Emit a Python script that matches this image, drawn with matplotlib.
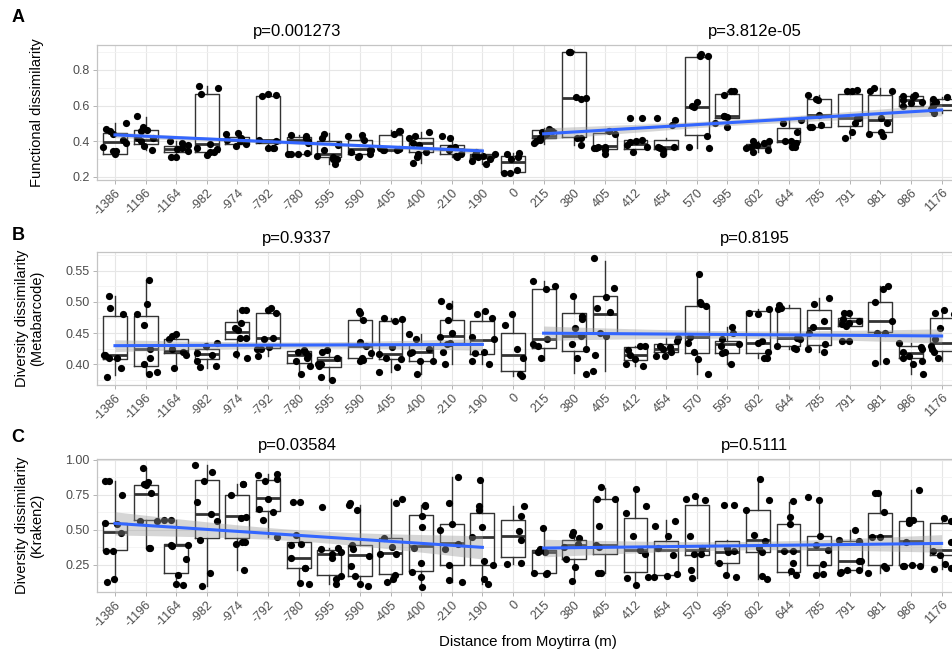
import numpy as np
import matplotlib.pyplot as plt

plt.rcParams['font.family'] = ['Liberation Sans', 'DejaVu Sans']

# distance categories (m)
sites = ["-1386", "-1196", "-1164", "-982", "-974", "-792", "-780", "-595", "-590",
         "-405", "-400", "-210", "-190", "0", "215", "380", "405", "412", "454",
         "570", "595", "602", "644", "785", "791", "981", "986", "1176"]

# ---- A: functional dissimilarity ----
func_pts = [
    [0.326, 0.39, 0.47, 0.50, 0.455, 0.44, 0.405, 0.345, 0.345, 0.37],
    [0.35, 0.465, 0.455, 0.42, 0.40, 0.375, 0.54, 0.48, 0.42],
    [0.40, 0.36, 0.31, 0.31, 0.345, 0.38, 0.39, 0.355],
    [0.665, 0.71, 0.70, 0.325, 0.36, 0.34, 0.34, 0.385, 0.355],
    [0.44, 0.445, 0.375, 0.41, 0.42, 0.385, 0.40],
    [0.655, 0.66, 0.665, 0.36, 0.36, 0.405, 0.40, 0.36],
    [0.43, 0.435, 0.42, 0.33, 0.33, 0.335, 0.40, 0.39, 0.33],
    [0.35, 0.32, 0.30, 0.27, 0.38, 0.44, 0.42, 0.31, 0.30],
    [0.35, 0.34, 0.32, 0.33, 0.31, 0.435, 0.43, 0.41, 0.35],
    [0.46, 0.46, 0.44, 0.35, 0.35, 0.35, 0.355, 0.36],
    [0.45, 0.28, 0.33, 0.31, 0.34, 0.39, 0.38, 0.42, 0.43],
    [0.42, 0.43, 0.37, 0.35, 0.31, 0.315, 0.36, 0.33],
    [0.275, 0.30, 0.31, 0.32, 0.325, 0.33, 0.34, 0.32, 0.29],
    [0.33, 0.335, 0.31, 0.22, 0.22, 0.30, 0.24],
    [0.43, 0.44, 0.46, 0.47, 0.42, 0.45, 0.41, 0.39, 0.40],
    [0.90, 0.90, 0.90, 0.65, 0.645, 0.635, 0.42, 0.38, 0.42],
    [0.44, 0.46, 0.37, 0.36, 0.33, 0.37, 0.36, 0.35],
    [0.53, 0.53, 0.41, 0.40, 0.38, 0.37, 0.34, 0.395],
    [0.52, 0.53, 0.49, 0.37, 0.35, 0.36, 0.37, 0.33],
    [0.88, 0.88, 0.89, 0.62, 0.60, 0.59, 0.43, 0.37, 0.36],
    [0.68, 0.66, 0.68, 0.54, 0.54, 0.535, 0.50, 0.48],
    [0.40, 0.40, 0.39, 0.38, 0.37, 0.35, 0.36, 0.34],
    [0.52, 0.50, 0.45, 0.40, 0.39, 0.37, 0.40, 0.37],
    [0.66, 0.63, 0.64, 0.55, 0.48, 0.48, 0.49],
    [0.68, 0.69, 0.68, 0.53, 0.50, 0.45, 0.42, 0.53],
    [0.70, 0.68, 0.68, 0.53, 0.50, 0.45, 0.43, 0.44],
    [0.655, 0.66, 0.65, 0.63, 0.62, 0.60, 0.615],
    [0.64, 0.65, 0.62, 0.60, 0.58, 0.56, 0.61],
]
func_lo = [0.325, 0.35, 0.31, 0.325, 0.375, 0.36, 0.33, 0.27, 0.31, 0.345, 0.28, 0.31, 0.27, 0.22,
           0.385, 0.38, 0.33, 0.34, 0.33, 0.36, 0.48, 0.34, 0.37, 0.48, 0.42, 0.43, 0.60, 0.56]
func_q1 = [0.327, 0.384, 0.34, 0.34, 0.3875, 0.39, 0.331, 0.3125, 0.331, 0.35, 0.34, 0.327, 0.305, 0.228,
           0.42, 0.425, 0.356, 0.359, 0.356, 0.434, 0.528, 0.36, 0.397, 0.481, 0.487, 0.453, 0.60, 0.575]
func_med = [0.397, 0.406, 0.356, 0.384, 0.41, 0.41, 0.406, 0.331, 0.359, 0.354, 0.393, 0.356, 0.32, 0.284,
            0.43, 0.644, 0.372, 0.384, 0.369, 0.594, 0.54, 0.374, 0.40, 0.55, 0.528, 0.519, 0.63, 0.601]
func_q3 = [0.449, 0.466, 0.374, 0.663, 0.425, 0.656, 0.425, 0.40, 0.406, 0.438, 0.419, 0.378, 0.33, 0.318,
           0.465, 0.899, 0.444, 0.406, 0.41, 0.875, 0.665, 0.387, 0.472, 0.637, 0.665, 0.659, 0.655, 0.635]
func_hi = [0.50, 0.5375, 0.40, 0.71, 0.445, 0.67, 0.435, 0.445, 0.435, 0.465, 0.45, 0.43, 0.345, 0.335,
           0.475, 0.905, 0.46, 0.415, 0.42, 0.89, 0.68, 0.40, 0.52, 0.66, 0.69, 0.70, 0.665, 0.65]

# ---- B: diversity dissimilarity (metabarcode) ----
meta_pts = [
    [0.51, 0.49, 0.48, 0.415, 0.41, 0.395, 0.38, 0.415, 0.41],
    [0.535, 0.497, 0.48, 0.463, 0.41, 0.40, 0.385, 0.388, 0.425],
    [0.395, 0.44, 0.445, 0.448, 0.415, 0.42, 0.425],
    [0.435, 0.43, 0.415, 0.418, 0.405, 0.396, 0.397],
    [0.487, 0.487, 0.467, 0.458, 0.455, 0.443, 0.442, 0.417, 0.41],
    [0.49, 0.483, 0.487, 0.442, 0.441, 0.428, 0.425, 0.413, 0.425],
    [0.423, 0.42, 0.415, 0.41, 0.405, 0.397, 0.385, 0.42],
    [0.423, 0.42, 0.40, 0.38, 0.375, 0.40, 0.40, 0.41, 0.398],
    [0.485, 0.483, 0.471, 0.436, 0.418, 0.43, 0.41, 0.407, 0.406],
    [0.472, 0.475, 0.47, 0.428, 0.417, 0.41, 0.409, 0.396, 0.388],
    [0.44, 0.448, 0.425, 0.42, 0.418, 0.406, 0.406, 0.385],
    [0.502, 0.494, 0.471, 0.451, 0.444, 0.42, 0.401, 0.435, 0.433],
    [0.485, 0.48, 0.475, 0.44, 0.444, 0.418, 0.42, 0.40, 0.405],
    [0.463, 0.48, 0.425, 0.41, 0.382, 0.385],
    [0.534, 0.526, 0.52, 0.432, 0.43, 0.44, 0.41],
    [0.51, 0.478, 0.473, 0.458, 0.445, 0.432, 0.425, 0.41, 0.385],
    [0.57, 0.523, 0.508, 0.484, 0.49, 0.446, 0.45, 0.415, 0.39],
    [0.43, 0.43, 0.423, 0.415, 0.408, 0.398, 0.40],
    [0.443, 0.437, 0.43, 0.428, 0.425, 0.42, 0.413, 0.413],
    [0.544, 0.50, 0.496, 0.494, 0.444, 0.435, 0.42, 0.408, 0.385],
    [0.46, 0.45, 0.433, 0.44, 0.43, 0.42, 0.418, 0.40],
    [0.488, 0.483, 0.48, 0.438, 0.435, 0.42, 0.41, 0.41],
    [0.495, 0.49, 0.488, 0.443, 0.44, 0.43, 0.425, 0.427],
    [0.507, 0.497, 0.47, 0.46, 0.45, 0.433, 0.425, 0.42],
    [0.483, 0.483, 0.47, 0.472, 0.467, 0.462, 0.438, 0.438, 0.465],
    [0.525, 0.52, 0.50, 0.47, 0.45, 0.45, 0.405, 0.402],
    [0.435, 0.428, 0.425, 0.42, 0.41, 0.413, 0.40, 0.385, 0.405],
    [0.48, 0.482, 0.487, 0.458, 0.44, 0.43, 0.42, 0.41, 0.425],
]
meta_lo = [0.383, 0.386, 0.395, 0.395, 0.41, 0.413, 0.385, 0.375, 0.406, 0.388, 0.385, 0.401, 0.40, 0.382,
           0.407, 0.387, 0.39, 0.398, 0.413, 0.385, 0.40, 0.41, 0.425, 0.42, 0.462, 0.40, 0.385, 0.405]
meta_q1 = [0.408, 0.398, 0.419, 0.408, 0.44, 0.426, 0.403, 0.396, 0.41, 0.409, 0.406, 0.435, 0.416, 0.389,
           0.426, 0.421, 0.45, 0.407, 0.42, 0.419, 0.418, 0.419, 0.43, 0.431, 0.462, 0.452, 0.41, 0.422]
meta_med = [0.415, 0.425, 0.422, 0.417, 0.452, 0.442, 0.415, 0.407, 0.43, 0.417, 0.42, 0.445, 0.439, 0.415,
            0.44, 0.445, 0.48, 0.415, 0.425, 0.444, 0.433, 0.435, 0.442, 0.459, 0.469, 0.47, 0.418, 0.434]
meta_q3 = [0.478, 0.478, 0.44, 0.425, 0.468, 0.483, 0.421, 0.412, 0.471, 0.47, 0.433, 0.471, 0.47, 0.451,
           0.52, 0.483, 0.509, 0.428, 0.433, 0.494, 0.437, 0.485, 0.491, 0.487, 0.474, 0.50, 0.43, 0.475]
meta_hi = [0.509, 0.535, 0.448, 0.435, 0.487, 0.49, 0.423, 0.423, 0.485, 0.475, 0.448, 0.502, 0.485, 0.48,
           0.534, 0.509, 0.565, 0.43, 0.443, 0.545, 0.46, 0.488, 0.495, 0.507, 0.483, 0.525, 0.435, 0.487]

# ---- C: diversity dissimilarity (Kraken2) ----
krak_pts = [
    [0.845, 0.845, 0.75, 0.54, 0.545, 0.35, 0.15, 0.13, 0.48, 0.35],
    [0.94, 0.82, 0.83, 0.84, 0.76, 0.565, 0.565, 0.37, 0.37],
    [0.57, 0.57, 0.39, 0.39, 0.385, 0.29, 0.18, 0.11, 0.105],
    [0.96, 0.91, 0.85, 0.70, 0.61, 0.56, 0.43, 0.19, 0.10],
    [0.83, 0.83, 0.745, 0.59, 0.585, 0.41, 0.41, 0.40, 0.21],
    [0.90, 0.89, 0.86, 0.85, 0.72, 0.65, 0.63, 0.57, 0.45],
    [0.70, 0.70, 0.46, 0.40, 0.39, 0.30, 0.23, 0.23, 0.12, 0.11],
    [0.66, 0.37, 0.36, 0.34, 0.33, 0.30, 0.17, 0.15, 0.11],
    [0.68, 0.64, 0.69, 0.39, 0.36, 0.31, 0.24, 0.17, 0.11, 0.095],
    [0.72, 0.69, 0.44, 0.38, 0.33, 0.33, 0.18, 0.13, 0.145],
    [0.68, 0.67, 0.60, 0.52, 0.37, 0.26, 0.20, 0.16, 0.09],
    [0.88, 0.69, 0.50, 0.54, 0.36, 0.40, 0.245, 0.14, 0.13],
    [0.852, 0.67, 0.64, 0.52, 0.445, 0.28, 0.245, 0.15, 0.11],
    [0.67, 0.60, 0.49, 0.43, 0.262, 0.255],
    [0.51, 0.36, 0.34, 0.34, 0.345, 0.19, 0.185, 0.19],
    [0.483, 0.464, 0.44, 0.38, 0.29, 0.231, 0.136, 0.40],
    [0.805, 0.721, 0.721, 0.529, 0.388, 0.38, 0.19, 0.19],
    [0.79, 0.671, 0.619, 0.452, 0.357, 0.329, 0.16, 0.155, 0.107],
    [0.559, 0.524, 0.452, 0.369, 0.321, 0.183, 0.17, 0.16],
    [0.719, 0.74, 0.71, 0.452, 0.33, 0.33, 0.21, 0.37, 0.155],
    [0.679, 0.679, 0.37, 0.35, 0.34, 0.262, 0.179, 0.16],
    [0.862, 0.714, 0.643, 0.464, 0.42, 0.34, 0.37, 0.167, 0.15],
    [0.707, 0.588, 0.543, 0.35, 0.35, 0.262, 0.202, 0.179],
    [0.714, 0.731, 0.457, 0.357, 0.255, 0.186, 0.175, 0.393],
    [0.495, 0.429, 0.42, 0.28, 0.28, 0.20, 0.19, 0.21, 0.21],
    [0.762, 0.762, 0.624, 0.448, 0.448, 0.24, 0.23, 0.19],
    [0.786, 0.567, 0.548, 0.57, 0.41, 0.238, 0.24, 0.25, 0.24],
    [0.583, 0.56, 0.41, 0.35, 0.255, 0.226, 0.219, 0.32],
]
krak_lo = [0.13, 0.37, 0.105, 0.10, 0.21, 0.45, 0.11, 0.11, 0.095, 0.13, 0.09, 0.13, 0.11, 0.255,
           0.185, 0.136, 0.19, 0.107, 0.16, 0.155, 0.16, 0.15, 0.18, 0.18, 0.20, 0.19, 0.238, 0.219]
krak_q1 = [0.352, 0.567, 0.19, 0.44, 0.44, 0.636, 0.226, 0.179, 0.171, 0.186, 0.202, 0.25, 0.245, 0.302,
           0.19, 0.29, 0.329, 0.195, 0.174, 0.321, 0.262, 0.34, 0.198, 0.245, 0.214, 0.245, 0.245, 0.317]
krak_med = [0.483, 0.757, 0.39, 0.612, 0.595, 0.724, 0.298, 0.327, 0.317, 0.331, 0.381, 0.405, 0.445, 0.457,
            0.34, 0.388, 0.388, 0.357, 0.352, 0.357, 0.34, 0.429, 0.345, 0.364, 0.279, 0.452, 0.417, 0.352]
krak_q3 = [0.548, 0.821, 0.398, 0.857, 0.745, 0.857, 0.41, 0.352, 0.393, 0.44, 0.607, 0.54, 0.619, 0.571,
           0.352, 0.429, 0.721, 0.583, 0.417, 0.674, 0.417, 0.643, 0.543, 0.457, 0.417, 0.619, 0.564, 0.548]
krak_hi = [0.845, 0.94, 0.57, 0.96, 0.83, 0.90, 0.46, 0.37, 0.68, 0.72, 0.68, 0.88, 0.852, 0.67,
           0.50, 0.49, 0.80, 0.79, 0.567, 0.72, 0.43, 0.86, 0.70, 0.72, 0.495, 0.76, 0.786, 0.583]

# linear fits: (value at first site, value at last site),
# and confidence half-width (at centre, at ends); left = sites -1386..-190, right = 215..1176
fit_left = [(0.436, 0.346), (0.430, 0.432), (0.545, 0.374)]
fit_right = [(0.442, 0.576), (0.450, 0.4455), (0.369, 0.402)]
band_left = [(0.008, 0.016), (0.005, 0.0095), (0.04, 0.083)]
band_right = [(0.016, 0.033), (0.006, 0.0115), (0.03, 0.063)]

p_left = ["p=0.001273", "p=0.9337", "p=0.03584"]
p_right = ["p=3.812e-05", "p=0.8195", "p=0.5111"]

W, H = 952, 654
fig = plt.figure(figsize=(W / 100, H / 100), dpi=100)
left = 96.6 / W
width = (960 - 96.6) / W
axA = fig.add_axes([left, 1 - 180 / H, width, 135 / H])
axB = fig.add_axes([left, 1 - 385 / H, width, 133 / H])
axC = fig.add_axes([left, 1 - 592 / H, width, 133 / H])

grey_txt = '#4D4D4D'


def smooth(ax, i0, i1, ends, band):
    xx = np.linspace(i0, i1, 80)
    fit = np.interp(xx, [i0, i1], ends)
    t = (xx - (i0 + i1) / 2) / ((i1 - i0) / 2)
    hw = np.sqrt(band[0] ** 2 + (band[1] ** 2 - band[0] ** 2) * t ** 2)
    ax.fill_between(xx, fit - hw, fit + hw, color='#999999', alpha=0.4, lw=0, zorder=4)
    ax.plot(xx, fit, color='#3366FF', lw=2.2, zorder=5)


def panel(ax, k, pts, lo, q1, med, q3, hi, ylim, yticks, minor, fmt, ylabel, seed):
    ax.set_xlim(-0.6, 27.6)
    ax.set_ylim(*ylim)
    ax.set_axisbelow(True)
    ax.set_xticks(range(len(sites)))
    ax.set_xticklabels(sites, rotation=45, ha='right', va='top', rotation_mode='anchor',
                       fontsize=9, color=grey_txt)
    ax.set_yticks(yticks)
    ax.set_yticklabels([fmt % v for v in yticks], fontsize=9, color=grey_txt)
    ax.set_yticks(minor, minor=True)
    ax.tick_params(axis='both', which='major', length=3, color='#B3B3B3', width=0.7, pad=2)
    ax.tick_params(axis='y', which='minor', length=0)
    ax.grid(True, which='major', color='#E6E6E6', lw=0.8)
    ax.grid(True, which='minor', axis='y', color='#F2F2F2', lw=0.6)
    for sp in ax.spines.values():
        sp.set_color('#C4C4C4')
        sp.set_linewidth(0.9)

    stats = [dict(med=med[i], q1=q1[i], q3=q3[i], whislo=lo[i], whishi=hi[i], fliers=[])
             for i in range(len(sites))]
    ax.bxp(stats, positions=range(len(sites)), widths=0.78, showfliers=False, showcaps=False,
           boxprops=dict(color='#333333', lw=1.0),
           whiskerprops=dict(color='#333333', lw=1.0),
           medianprops=dict(color='#333333', lw=2.0), manage_ticks=False)

    rng = np.random.default_rng(seed)
    for i, vals in enumerate(pts):
        jx = i + rng.uniform(-0.4, 0.4, len(vals))
        ax.scatter(jx, vals, s=27, color='black', lw=0, zorder=3)

    smooth(ax, 0, 12, fit_left[k], band_left[k])
    smooth(ax, 14, 27, fit_right[k], band_right[k])

    ax.annotate(p_left[k], xy=(5.95, 1), xycoords=('data', 'axes fraction'), xytext=(0, 4),
                textcoords='offset points', ha='center', va='bottom', fontsize=12)
    ax.annotate(p_right[k], xy=(20.9, 1), xycoords=('data', 'axes fraction'), xytext=(0, 4),
                textcoords='offset points', ha='center', va='bottom', fontsize=12)
    ax.set_ylabel(ylabel, fontsize=10.5, linespacing=1.1)
    ax.yaxis.set_label_coords(-0.061, 0.5)


panel(axA, 0, func_pts, func_lo, func_q1, func_med, func_q3, func_hi, (0.183, 0.94),
      [0.2, 0.4, 0.6, 0.8], [0.3, 0.5, 0.7, 0.9], '%.1f', 'Functional dissimilarity', 1)
panel(axB, 1, meta_pts, meta_lo, meta_q1, meta_med, meta_q3, meta_hi, (0.367, 0.58),
      [0.40, 0.45, 0.50, 0.55], [0.375, 0.425, 0.475, 0.525, 0.575], '%.2f',
      'Diversity dissimilarity\n(Metabarcode)', 2)
panel(axC, 2, krak_pts, krak_lo, krak_q1, krak_med, krak_q3, krak_hi, (0.055, 1.005),
      [0.25, 0.50, 0.75, 1.00], [0.125, 0.375, 0.625, 0.875], '%.2f',
      'Diversity dissimilarity\n(Kraken2)', 3)

for lab, y in [('A', 17), ('B', 235), ('C', 437)]:
    fig.text(18 / W, 1 - y / H, lab, fontsize=13, fontweight='bold', ha='center', va='center')

fig.text(528 / W, 1 - 642 / H, 'Distance from Moytirra (m)', fontsize=10.8,
         ha='center', va='center')

fig.savefig('out.png', dpi=100)
